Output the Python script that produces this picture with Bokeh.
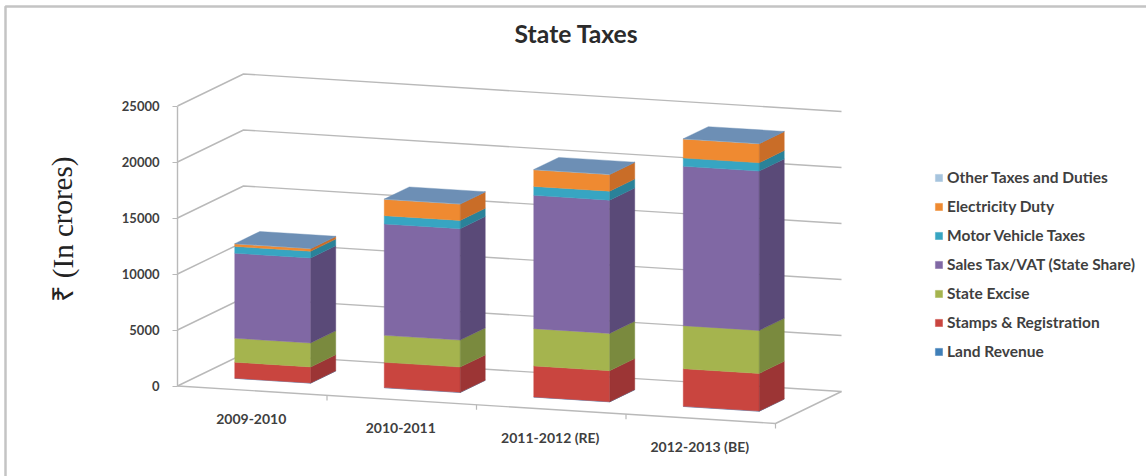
from bokeh.plotting import figure
from bokeh.models import Range1d, LinearAxis, FixedTicker, Legend, LegendItem
from bokeh.core.properties import value
from bokeh.embed import file_html
from bokeh.resources import INLINE

categories = ["2009-2010", "2010-2011", "2011-2012 (RE)", "2012-2013 (BE)"]
series_names = ["Land Revenue", "Stamps & Registration", "State Excise",
                "Sales Tax/VAT (State Share)", "Motor Vehicle Taxes",
                "Electricity Duty", "Other Taxes and Duties"]
land_revenue = [15, 15, 15, 15]
stamps_registration = [1430, 2260, 2770, 3360]
state_excise = [2140, 2410, 3330, 3840]
sales_tax_vat = [7590, 9940, 11900, 14230]
motor_vehicle = [600, 744, 800, 744]
electricity_duty = [240, 1460, 1490, 1700]
other_taxes = [15, 15, 15, 15]
series_values = [land_revenue, stamps_registration, state_excise, sales_tax_vat,
                 motor_vehicle, electricity_duty, other_taxes]
y_ticks = [0, 5000, 10000, 15000, 20000, 25000]

front_colors = ["#3f7fb8", "#c9453f", "#a5b44e", "#8068a4", "#37a5c2", "#ef8a31", "#a6c4de"]
side_colors = ["#2f6190", "#9c3535", "#7a8a3e", "#5a4a78", "#2a8299", "#c96d28", "#6d8fb5"]
top_color = "#6d8fb5"
grid_color = "#b9b9b9"
text_color = "#3f3f3f"

W, H = 1146, 476
PX_PER_VALUE = 280 / 25000
ZERO_PY = 385.5

# oblique projection: u along categories 0..1, d into depth 0..1, v in crores
def proj(u, d, v):
    x = 177 + 598 * u + 66 * d
    y = v + (-37.5 * u + 32 * d) / PX_PER_VALUE
    return x, y

p = figure(width=W, height=H, output_backend="svg", toolbar_location=None,
           x_range=Range1d(0, W),
           y_range=Range1d((ZERO_PY - H) / PX_PER_VALUE, ZERO_PY / PX_PER_VALUE),
           min_border=0, min_border_left=0, min_border_right=0,
           min_border_top=0, min_border_bottom=0,
           x_axis_location=None, y_axis_location=None, outline_line_color=None,
           background_fill_color="white", border_fill_color="white")
p.grid.visible = False
p.styles = {"position": "absolute", "left": "0px", "top": "0px"}

# frame round the picture
top_frame = (ZERO_PY - 6) / PX_PER_VALUE
bottom_frame = (ZERO_PY - 476) / PX_PER_VALUE
p.line([5, 5, 1146], [bottom_frame, top_frame, top_frame], line_color="#c4c4c4", line_width=2.5)

# walls
for t in y_ticks:
    xs, ys = zip(proj(0, 0, t), proj(0, 1, t), proj(1, 1, t))
    p.line(list(xs), list(ys), line_color=grid_color, line_width=1.4)
xs, ys = zip(proj(0, 0, 0), proj(1, 0, 0), proj(1, 1, 0))
p.line(list(xs), list(ys), line_color=grid_color, line_width=1.4)
for i in range(1, 5):
    x0, y0 = proj(i / 4, 0, 0)
    p.line([x0, x0], [y0, y0 - 5 / PX_PER_VALUE], line_color=grid_color, line_width=1.2)

# real value axis
axis = LinearAxis(fixed_location=177, bounds=(0, 25000), ticker=FixedTicker(ticks=y_ticks),
                  axis_line_color=grid_color, axis_line_width=1.4,
                  major_tick_line_color=grid_color, major_tick_line_width=1.2,
                  major_tick_in=0, major_tick_out=5, minor_tick_line_color=None,
                  major_label_standoff=13, major_label_text_font="Lato",
                  major_label_text_font_style="bold", major_label_text_font_size="13px",
                  major_label_text_color=text_color)
p.add_layout(axis, "left")

# bars
BAR_W, D0, D1 = 0.127, 0.31, 0.69
renderers = []
for s, vals in enumerate(series_values):
    xs, ys, colors = [], [], []
    bases = [sum(series_values[k][i] for k in range(s)) for i in range(4)]
    faces = []
    for i, v in enumerate(vals):
        u0 = (i + 0.5) / 4 - BAR_W / 2
        u1 = u0 + BAR_W
        b, t = bases[i], bases[i] + v
        faces.append((front_colors[s], [proj(u0, D0, b), proj(u1, D0, b), proj(u1, D0, t), proj(u0, D0, t)]))
        faces.append((side_colors[s], [proj(u1, D0, b), proj(u1, D1, b), proj(u1, D1, t), proj(u1, D0, t)]))
        if s == len(series_values) - 1:
            faces.append((top_color, [proj(u0, D0, t), proj(u1, D0, t), proj(u1, D1, t), proj(u0, D1, t)]))
    for color, pts in faces:
        colors.append(color)
        xs.append([q[0] for q in pts])
        ys.append([q[1] for q in pts])
    r = p.patches(xs, ys, fill_color=colors, line_color=colors, line_width=0.4)
    renderers.append(r)

# category labels
lx, ly = zip(*[proj((i + 0.5) / 4, 0, 0) for i in range(4)])
p.text([x - 1 for x in lx], list(ly), text=categories, text_font=value("Lato"), text_font_style="bold",
       text_font_size="14px", text_color=text_color, text_align="center",
       text_baseline="middle", y_offset=28)

# title and unit
p.text([576], [(ZERO_PY - 33) / PX_PER_VALUE], text=["State Taxes"], text_font=value("Lato"),
       text_font_style="bold", text_font_size="24.7px", text_color="#2b2b2b",
       text_align="center", text_baseline="middle")
p.text([62], [(ZERO_PY - 229) / PX_PER_VALUE], text=["₹ (In crores)"], text_font=value("Liberation Serif"),
       text_font_size="29px", text_color="#222222", text_align="center", text_baseline="middle",
       angle=1.5708)

items = [LegendItem(label=series_names[s], renderers=[renderers[s]], index=0) for s in range(6, -1, -1)]
legend = Legend(items=items, location=(934, 116), orientation="vertical",
                border_line_color=None, background_fill_alpha=0,
                glyph_width=9, glyph_height=9, label_text_font="Lato",
                label_text_font_style="bold", label_text_font_size="15.5px",
                label_text_color=text_color, spacing=11, label_height=17,
                label_standoff=4, padding=0, margin=0)
p.add_layout(legend, "center")

open("out.html", "w").write(file_html(p, INLINE))
